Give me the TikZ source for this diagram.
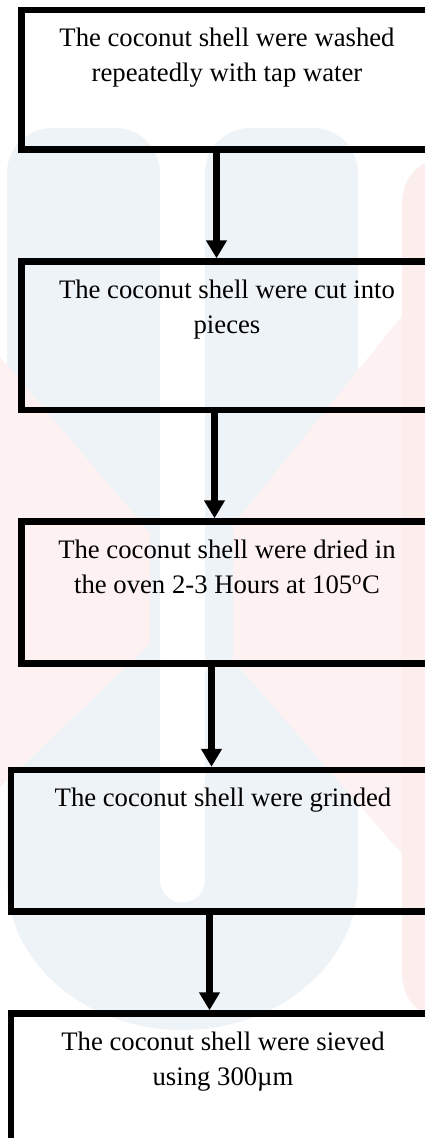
\documentclass[tikz,border=0pt]{standalone}
\usepackage{fontspec}
\setmainfont{Liberation Serif}
\usetikzlibrary{arrows.meta}

\definecolor{wmblue}{RGB}{238,243,247}
\definecolor{wmpink}{RGB}{254,241,241}
\definecolor{wmred}{RGB}{253,238,238}

% top-aligned body of a process box: width, height, text
\newcommand{\stepbody}[3]{%
  \begin{minipage}[c][#2][t]{#1}\centering\vspace*{18.3pt}#3\end{minipage}}

\begin{document}
\begin{tikzpicture}[x=1pt,y=-1pt,
  stepbox/.style={draw=black, line width=6.5pt, inner sep=0pt,
    anchor=north west, font=\fontsize{26.7pt}{35pt}\selectfont},
  flow/.style={draw=black, line width=6.5pt,
    -{Triangle[width=20pt,length=18pt]}}]

\useasboundingbox (0,0) rectangle (425,1138);
\clip (0,0) rectangle (425,1138);

% faint background emblem
\fill[wmblue] (182.5,880) ellipse [x radius=175.5pt, y radius=150pt];
\fill[wmblue, rounded corners=45pt] (7,880) -- (7,128) -- (160,128) -- (160,880) -- cycle;
\fill[wmblue] (7,880) rectangle (160,840);
\fill[wmblue, rounded corners=45pt] (205,880) -- (205,128) -- (358,128) -- (358,880) -- cycle;
\fill[wmblue] (205,880) rectangle (358,840);
\fill[white] (160,700) rectangle (205,880);
\fill[white] (182.5,880) circle [radius=22.5pt];
\fill[wmpink] (-10,345) -- (150,533) -- (150,644) -- (-10,797) -- cycle;
\fill[wmpink] (435,275) -- (233,525) -- (233,660) -- (435,892) -- cycle;
\fill[wmred, rounded corners=45pt] (402,157) rectangle (560,1020);

% process boxes
\node[stepbox] (b1) at (18.25,6.75)
  {\stepbody{411pt}{139.5pt}{The coconut shell were washed\\repeatedly with tap water}};
\node[stepbox] (b2) at (18.25,258.25)
  {\stepbody{411pt}{148.5pt}{The coconut shell were cut into\\pieces}};
\node[stepbox] (b3) at (18.25,518.25)
  {\stepbody{411pt}{142pt}{The coconut shell were dried in\\the oven 2-3 Hours at 105\textsuperscript{o}C}};
\node[stepbox] (b4) at (7.75,766.75)
  {\stepbody{424pt}{141.5pt}{The coconut shell were grinded}};
\node[stepbox] (b5) at (7.75,1010.25)
  {\stepbody{424pt}{127.5pt}{The coconut shell were sieved\\using 300µm}};

% arrow columns
\coordinate (a1) at (216.5,0);
\coordinate (a2) at (214.5,0);
\coordinate (a3) at (211.5,0);
\coordinate (a4) at (209.5,0);

\draw[flow] (b1.south -| a1) -- (b2.north -| a1);
\draw[flow] (b2.south -| a2) -- (b3.north -| a2);
\draw[flow] (b3.south -| a3) -- (b4.north -| a3);
\draw[flow] (b4.south -| a4) -- (b5.north -| a4);
\end{tikzpicture}
\end{document}
